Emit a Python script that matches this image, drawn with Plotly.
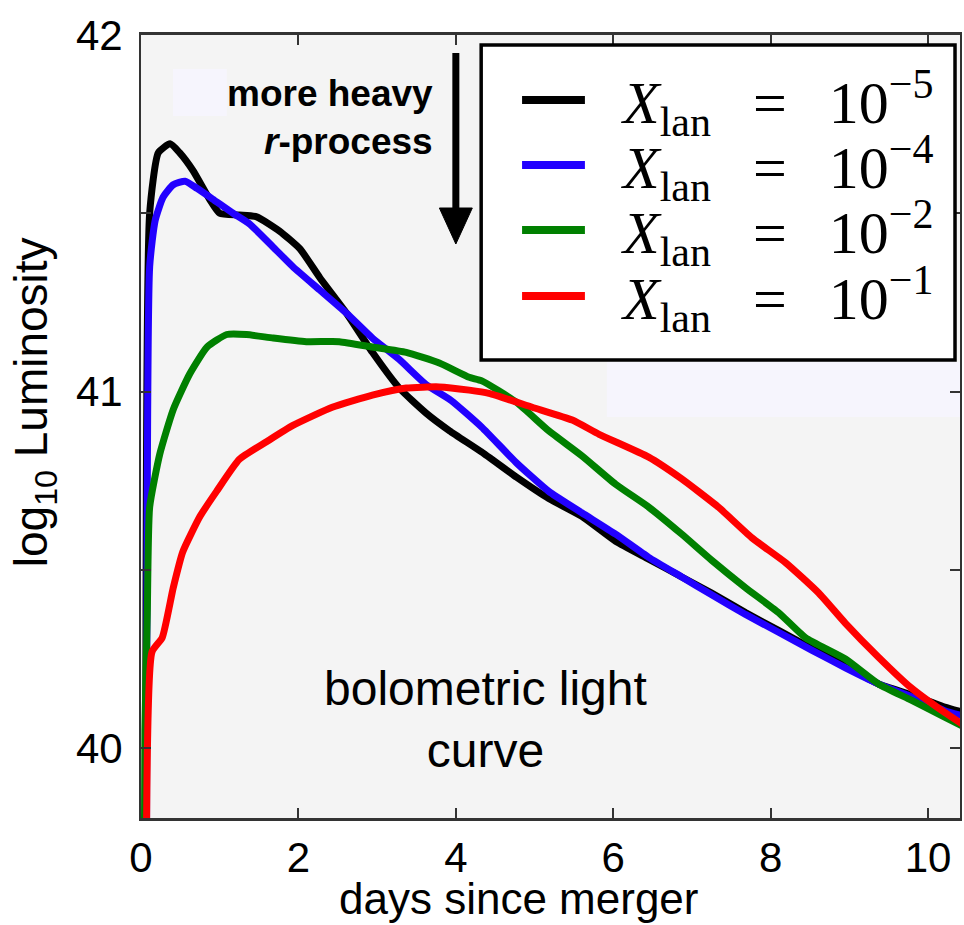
import plotly.graph_objects as go

# ---- light-curve data: log10 bolometric luminosity vs days since merger ----
days_lan5 = [0.06, 0.11, 0.22, 0.37, 0.49, 0.66, 0.87, 1.00, 1.25, 1.47, 1.76, 2.02, 2.27, 2.61,
             2.94, 3.28, 3.62, 3.92, 4.33, 4.77, 5.18, 5.60, 6.03, 6.45, 6.87, 7.25, 7.68, 8.10,
             8.52, 8.95, 9.37, 9.78, 10.21, 10.45]
lum_lan5 = [39.6, 41.50, 41.67, 41.695, 41.67, 41.62, 41.54, 41.50, 41.495, 41.49, 41.45, 41.40,
            41.32, 41.22, 41.11, 41.01, 40.94, 40.89, 40.83, 40.76, 40.70, 40.65, 40.58, 40.53,
            40.48, 40.435, 40.38, 40.33, 40.28, 40.23, 40.18, 40.15, 40.115, 40.10]

days_lan4 = [0.07, 0.11, 0.18, 0.28, 0.41, 0.56, 0.71, 0.91, 1.17, 1.38, 1.68, 1.93, 2.27, 2.61,
             2.94, 3.28, 3.62, 3.94, 4.33, 4.77, 5.18, 5.60, 6.03, 6.45, 6.87, 7.25, 7.68, 8.10,
             8.52, 8.95, 9.37, 9.78, 10.21, 10.45]
lum_lan4 = [39.6, 41.35, 41.48, 41.545, 41.58, 41.59, 41.57, 41.54, 41.50, 41.47, 41.405, 41.35,
            41.285, 41.22, 41.15, 41.09, 41.02, 40.975, 40.90, 40.80, 40.72, 40.66, 40.60, 40.535,
            40.48, 40.43, 40.375, 40.325, 40.275, 40.225, 40.18, 40.145, 40.105, 40.09]

days_lan2 = [0.04, 0.05, 0.08, 0.11, 0.24, 0.41, 0.62, 0.84, 1.09, 1.34, 1.68, 2.10, 2.52, 2.94,
             3.37, 3.79, 4.17, 4.33, 4.77, 5.18, 5.60, 6.03, 6.45, 6.87, 7.25, 7.68, 8.10, 8.44,
             8.95, 9.37, 9.78, 10.21, 10.45]
lum_lan2 = [39.6, 40.05, 40.38, 40.676, 40.826, 40.95, 41.05, 41.125, 41.16, 41.16, 41.15, 41.14,
            41.14, 41.125, 41.11, 41.08, 41.04, 41.03, 40.97, 40.89, 40.82, 40.74, 40.676, 40.60,
            40.527, 40.45, 40.38, 40.31, 40.25, 40.18, 40.135, 40.087, 40.06]

days_lan1 = [0.07, 0.14, 0.27, 0.41, 0.53, 0.75, 0.96, 1.25, 1.60, 1.93, 2.43, 2.94, 3.37, 3.79,
             4.17, 4.42, 4.97, 5.48, 5.82, 6.45, 6.87, 7.08, 7.34, 7.76, 8.19, 8.61, 8.95, 9.37,
             9.78, 10.21, 10.45]
lum_lan1 = [39.75, 40.27, 40.31, 40.45, 40.55, 40.65, 40.72, 40.81, 40.86, 40.905, 40.956, 40.99,
            41.01, 41.013, 41.004, 40.995, 40.956, 40.92, 40.88, 40.816, 40.755, 40.72, 40.675,
            40.59, 40.52, 40.435, 40.35, 40.255, 40.17, 40.10, 40.065]

EQ = "\u2002\u2009=\u2002\u2009"
series_labels = [
    f"<i>X</i><sub>lan</sub>{EQ}10<sup>\u22125</sup>",
    f"<i>X</i><sub>lan</sub>{EQ}10<sup>\u22124</sup>",
    f"<i>X</i><sub>lan</sub>{EQ}10<sup>\u22122</sup>",
    f"<i>X</i><sub>lan</sub>{EQ}10<sup>\u22121</sup>",
]
series_colors = ["#000000", "#2200ff", "#008000", "#ff0000"]
series_days = [days_lan5, days_lan4, days_lan2, days_lan1]
series_lum = [lum_lan5, lum_lan4, lum_lan2, lum_lan1]

x_tick_vals = [0, 2, 4, 6, 8, 10]
y_tick_vals = [40, 40.5, 41, 41.5, 42]
y_tick_text = ["40", "", "41", "", "42"]

# ---- figure geometry ----
W, H = 964, 925
ML, MR, MT, MB = 141, 2, 35, 107
X_RANGE = [0, 10.405]
Y_RANGE = [39.804, 42.0]

def px_to_x(px):
    return X_RANGE[0] + (px - ML) / (W - ML - MR) * (X_RANGE[1] - X_RANGE[0])

def px_to_y(py):
    return Y_RANGE[1] - (py - MT) / (H - MT - MB) * (Y_RANGE[1] - Y_RANGE[0])

def paper_x(px):
    return (px - ML) / (W - ML - MR)

def paper_y(py):
    return (H - MB - py) / (H - MT - MB)

fig = go.Figure()
for name, color, xs, ys in zip(series_labels, series_colors, series_days, series_lum):
    fig.add_trace(go.Scatter(x=xs, y=ys, mode="lines", name=name,
                             line=dict(color=color, width=7, shape="spline", smoothing=0.5),
                             showlegend=False, cliponaxis=True))

shapes = []
# faint lavender patches in the axes background
shapes.append(dict(type="rect", xref="x", yref="y", layer="below",
                   x0=px_to_x(173), x1=px_to_x(227), y0=px_to_y(116), y1=px_to_y(69),
                   fillcolor="#f6f5fd", line=dict(width=0)))
shapes.append(dict(type="rect", xref="x", yref="y", layer="below",
                   x0=px_to_x(608), x1=px_to_x(962), y0=px_to_y(417), y1=px_to_y(362),
                   fillcolor="#f6f5fd", line=dict(width=0)))

# downward arrow: shaft + triangular head
arrow_x = 4.0
shapes.append(dict(type="line", xref="x", yref="y",
                   x0=arrow_x, x1=arrow_x, y0=px_to_y(53), y1=px_to_y(215),
                   line=dict(color="black", width=7)))
hw = px_to_x(141 + 16.5) - px_to_x(141)
head_top, head_tip = px_to_y(208), px_to_y(244)
shapes.append(dict(type="path", xref="x", yref="y",
                   path=f"M {arrow_x - hw},{head_top} L {arrow_x + hw},{head_top} L {arrow_x},{head_tip} Z",
                   fillcolor="black", line=dict(color="black", width=1)))

# legend box drawn by hand (wide line swatches)
shapes.append(dict(type="rect", xref="paper", yref="paper",
                   x0=paper_x(482), x1=paper_x(957), y0=paper_y(360), y1=paper_y(45),
                   fillcolor="white", line=dict(color="black", width=3.5)))
legend_rows = [100, 165, 230, 296]
annotations = []
for row_y, color, label in zip(legend_rows, series_colors, series_labels):
    shapes.append(dict(type="line", xref="paper", yref="paper",
                       x0=paper_x(523), x1=paper_x(586), y0=paper_y(row_y), y1=paper_y(row_y),
                       line=dict(color=color, width=8)))
    annotations.append(dict(xref="paper", yref="paper", x=paper_x(620), y=paper_y(row_y + 3),
                            xanchor="left", yanchor="middle", showarrow=False, text=label,
                            font=dict(family="Liberation Serif", size=60, color="black")))

annotations.append(dict(xref="x", yref="y", x=px_to_x(436), y=px_to_y(117),
                        xanchor="right", yanchor="middle", align="right", showarrow=False,
                        text="<b>more heavy</b><br><b><i>r</i>-process</b>",
                        font=dict(family="Liberation Sans", size=37, color="black")))
annotations.append(dict(xref="x", yref="y", x=px_to_x(486), y=px_to_y(719),
                        xanchor="center", yanchor="middle", align="center", showarrow=False,
                        text="bolometric light<br>curve",
                        font=dict(family="Liberation Sans", size=48, color="black")))
annotations.append(dict(xref="paper", yref="paper", x=paper_x(34), y=paper_y(402),
                        xanchor="center", yanchor="middle", textangle=-90, showarrow=False,
                        text="log<sub>10</sub> Luminosity",
                        font=dict(family="Liberation Sans", size=46, color="black")))
annotations.append(dict(xref="paper", yref="paper", x=paper_x(519), y=paper_y(898),
                        xanchor="center", yanchor="middle", showarrow=False,
                        text="days since merger",
                        font=dict(family="Liberation Sans", size=44, color="black")))

axis_common = dict(showline=True, linecolor="#333333", mirror="ticks", ticks="inside",
                   ticklen=10, tickwidth=1.5, tickcolor="#333333", showgrid=False,
                   zeroline=False, tickfont=dict(family="Liberation Sans", size=42, color="black"))

fig.update_layout(
    width=W, height=H,
    margin=dict(l=ML, r=MR, t=MT, b=MB, pad=0),
    paper_bgcolor="white", plot_bgcolor="#f4f4f4",
    shapes=shapes, annotations=annotations,
    xaxis=dict(range=X_RANGE, tickvals=x_tick_vals, linewidth=2.5, ticklabelstandoff=1,
               **axis_common),
    yaxis=dict(range=Y_RANGE, tickvals=y_tick_vals, ticktext=y_tick_text, linewidth=2,
               ticklabelstandoff=8, **axis_common),
)

fig.write_html("out.html")
